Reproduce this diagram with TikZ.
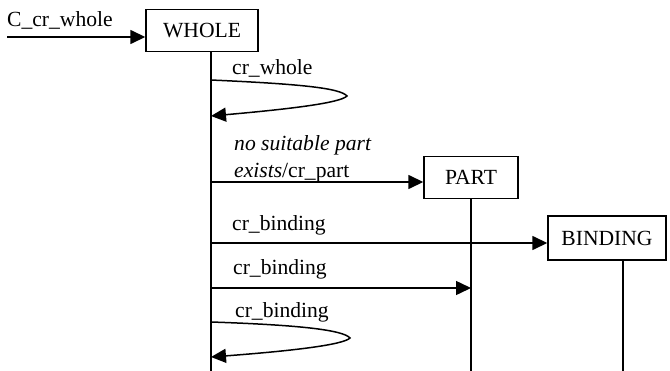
\documentclass[tikz,border=0pt]{standalone}
\usepackage{fontspec}
\setmainfont{Liberation Serif}
\usetikzlibrary{arrows.meta}
\begin{document}
\begin{tikzpicture}[x=1pt,y=-1pt,
  every node/.style={font=\fontsize{21.6}{26}\selectfont},
  objbox/.style={draw,line width=1.4pt,inner sep=0pt},
  lifeline/.style={line width=1.5pt},
  msg/.style={line width=1.5pt,-{Triangle[length=15pt,width=14pt]}},
  lbl/.style={anchor=base west,inner sep=0pt}]
\useasboundingbox (0,0) rectangle (670,370);

% objects
\node[objbox,minimum width=112pt,minimum height=42pt] (whole) at (202,30.5) {WHOLE};
\node[objbox,minimum width=94pt,minimum height=42pt] (part) at (471,177.5) {PART};
\node[objbox,minimum width=118pt,minimum height=44pt] (binding) at (607,238) {BINDING};

% lifeline ends
\coordinate (wend) at (211,371);
\coordinate (pend) at (471,371);
\coordinate (bend) at (623,371);
\draw[lifeline] (211,0 |- whole.south) -- (wend);
\draw[lifeline] (part.south) -- (pend);
\draw[lifeline] (623,0 |- binding.south) -- (bend);

% incoming creation message
\coordinate (start) at (7,37);
\draw[msg] (start) -- (start -| whole.west);
\node[lbl] (lc) at (7,26) {C\_cr\_whole};

% self message cr_whole
\coordinate (s1a) at (211,80);
\coordinate (s1b) at (211,116);
\draw[msg] (s1a) .. controls (300,84) and (340,88) .. (347,96)
  .. controls (340,103) and (290,109) .. (s1b);
\node[lbl] (l1) at (232,74) {cr\_whole};

% creation of PART
\coordinate (m2) at (211,182);
\draw[msg] (m2) -- (m2 -| part.west);
\node[lbl] (l2a) at (234,150) {\itshape no suitable part};
\node[lbl] (l2b) at (234,177) {\itshape exists\upshape/cr\_part};

% creation of BINDING
\coordinate (m3) at (211,243);
\draw[msg] (m3) -- (m3 -| binding.west);
\node[lbl] (l3) at (232,230) {cr\_binding};

% cr_binding to PART
\coordinate (m4) at (211,288);
\coordinate (m4p) at (471,288);
\draw[msg] (m4) -- (m4p);
\node[lbl] (l4) at (233,274) {cr\_binding};

% self message cr_binding
\coordinate (s2a) at (211,322);
\coordinate (s2b) at (211,357);
\draw[msg] (s2a) .. controls (300,325) and (343,330) .. (350,338)
  .. controls (343,345) and (290,351) .. (s2b);
\node[lbl] (l5) at (235,317) {cr\_binding};
\end{tikzpicture}
\end{document}
